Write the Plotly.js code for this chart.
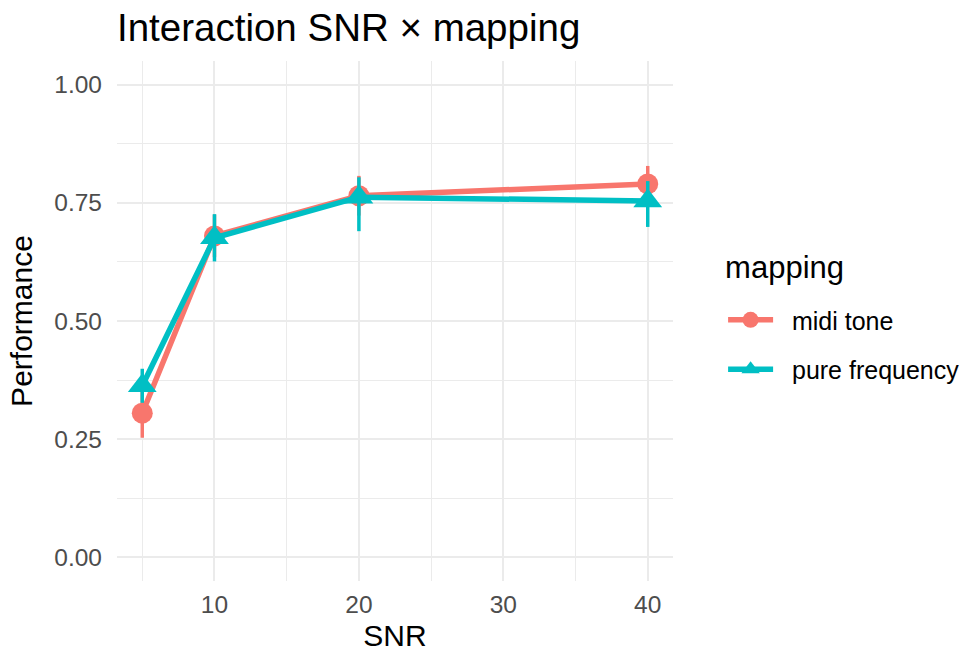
<!DOCTYPE html>
<html>
<head>
<meta charset="utf-8">
<script src="https://cdn.plot.ly/plotly-3.0.1.min.js"></script>
<style>html,body{margin:0;padding:0;background:#fff;}#chart{width:968px;height:655px;}</style>
</head>
<body>
<div id="chart"></div>
<script>
var snr = [5, 10, 20, 40];
var midiPerf = [0.305, 0.680, 0.765, 0.790];
var midiErrPlus = [0.052, 0.045, 0.042, 0.038];
var midiErrMinus = [0.052, 0.045, 0.042, 0.045];
var purePerf = [0.363, 0.676, 0.762, 0.754];
var pureErrPlus = [0.036, 0.050, 0.042, 0.042];
var pureErrMinus = [0.036, 0.050, 0.072, 0.055];
var xTicks = [10, 20, 30, 40];
var yTicks = [0, 0.25, 0.5, 0.75, 1.0];
var yTickLabels = ["0.00", "0.25", "0.50", "0.75", "1.00"];

var red = "#F8766D", teal = "#00BFC4";
var FONT = "Liberation Sans, Arial, Helvetica, sans-serif";
var PAD = "\u00A0\u00A0";

var traces = [
  {
    x: snr, y: midiPerf, type: "scatter", mode: "lines+markers", name: PAD + "midi tone",
    legendgroup: "a",
    legendgrouptitle: {text: "\u00A0", font: {size: 12}},
    line: {color: red, width: 5.5},
    marker: {color: red, size: 21, symbol: "circle"},
    error_y: {type: "data", array: midiErrPlus, arrayminus: midiErrMinus, symmetric: false, color: red, thickness: 3.5, width: 0}
  },
  {
    x: snr, y: purePerf, type: "scatter", mode: "lines+markers", name: PAD + "pure frequency",
    legendgroup: "b",
    line: {color: teal, width: 5.5},
    marker: {color: teal, size: 25, symbol: "triangle-up"},
    error_y: {type: "data", array: pureErrPlus, arrayminus: pureErrMinus, symmetric: false, color: teal, thickness: 3.5, width: 0}
  }
];

var layout = {
  width: 968, height: 655,
  paper_bgcolor: "#fff", plot_bgcolor: "#fff",
  font: {family: FONT, color: "#000"},
  margin: {l: 117, r: 295, t: 61, b: 74},
  title: {text: "Interaction SNR × mapping", font: {size: 38.5, color: "#000", family: FONT},
          xref: "paper", x: 0, xanchor: "left", yref: "container", y: 0.958, yanchor: "middle"},
  xaxis: {
    range: [3.25, 41.75], tickvals: xTicks, ticktext: xTicks.map(String),
    showgrid: true, gridcolor: "#EBEBEB", gridwidth: 2,
    minor: {tickvals: [5, 15, 25, 35], showgrid: true, gridcolor: "#EBEBEB", gridwidth: 1},
    zeroline: false, showline: false, ticks: "",
    tickfont: {size: 24.5, color: "#4D4D4D", family: FONT},
    ticklabelstandoff: 6,
    title: {text: "SNR", font: {size: 30, color: "#000", family: FONT}, standoff: 8}
  },
  yaxis: {
    range: [-0.05, 1.05], tickvals: yTicks, ticktext: yTickLabels,
    showgrid: true, gridcolor: "#EBEBEB", gridwidth: 2,
    minor: {tickvals: [0.125, 0.375, 0.625, 0.875], showgrid: true, gridcolor: "#EBEBEB", gridwidth: 1},
    zeroline: false, showline: false, ticks: "",
    tickfont: {size: 24.5, color: "#4D4D4D", family: FONT},
    ticklabelstandoff: 14,
    title: {text: "Performance", font: {size: 30, color: "#000", family: FONT}, standoff: 12}
  },
  showlegend: true,
  legend: {
    xref: "container", yref: "container", x: 0.747, y: 0.637, xanchor: "left", yanchor: "top",
    traceorder: "grouped", tracegroupgap: 14,
    title: {text: "mapping", font: {size: 31, color: "#000", family: FONT}},
    font: {size: 25, color: "#000", family: FONT},
    itemwidth: 45, bgcolor: "rgba(0,0,0,0)"
  }
};

Plotly.newPlot("chart", traces, layout, {displayModeBar: false, staticPlot: true});
</script>
</body>
</html>
